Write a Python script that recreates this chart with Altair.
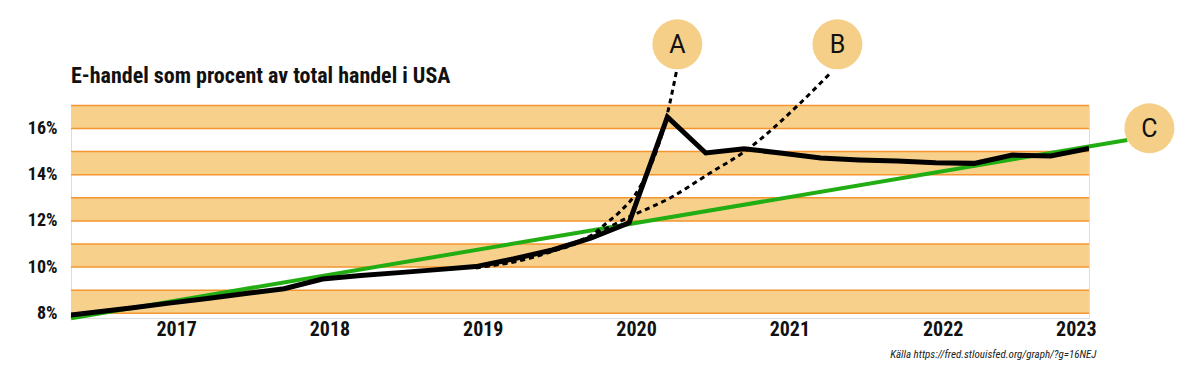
import altair as alt
import pandas as pd

title_text = "E-handel som procent av total handel i USA"
source_text = "Källa https://fred.stlouisfed.org/graph/?g=16NEJ"

# quarterly observations (decimal year) and e-commerce share (%)
quarters = [2016.25, 2016.5, 2016.75, 2017.0, 2017.25, 2017.5, 2017.75,
            2018.0, 2018.25, 2018.5, 2018.75, 2019.0, 2019.25, 2019.5,
            2019.75, 2020.0, 2020.25, 2020.5, 2020.75, 2021.0, 2021.25,
            2021.5, 2021.75, 2022.0, 2022.25, 2022.5, 2022.75, 2023.0]
share = [7.84, 8.03, 8.23, 8.44, 8.64, 8.86, 9.06,
         9.48, 9.64, 9.76, 9.89, 10.02, 10.36, 10.74,
         11.25, 11.92, 16.5, 14.94, 15.12, 14.93, 14.72,
         14.64, 14.59, 14.52, 14.49, 14.85, 14.81, 15.14]

# dashed scenario curves
a_x = [2019.0, 2019.25, 2019.5, 2019.75, 2019.855, 2019.941, 2020.072, 2020.248, 2020.311]
a_y = [10.0, 10.22, 10.68, 11.35, 11.92, 12.40, 13.48, 16.58, 18.53]
b_x = [2019.0, 2019.25, 2019.5, 2019.75, 2020.0, 2020.267, 2020.528, 2020.768, 2021.115, 2021.322]
b_y = [9.96, 10.26, 10.70, 11.35, 12.17, 12.99, 14.07, 15.07, 17.09, 18.46]

# green trend line
trend_x = [2016.36, 2023.25]
trend_y = [7.78, 15.50]

# shaded bands
band_low = [8, 10, 12, 14, 16]
band_high = [9, 11, 13, 15, 17]
band_edges = [8, 9, 10, 11, 12, 13, 14, 15, 16, 17]

# scenario markers
marker_labels = ["A", "B", "C"]
marker_x = [2020.315, 2021.359, 2023.394]
marker_y = [19.645, 19.645, 16.01]

year_ticks = [2017, 2018, 2019, 2020, 2021, 2022, 2023]
pct_ticks = [8, 10, 12, 14, 16]

x_domain = [2016.36, 2023.0]
y_domain = [7.8, 17.0]

COND = "Roboto Condensed, Liberation Sans Narrow, Arial Narrow, Roboto, sans-serif"
BAND_FILL = "#f7d18c"
BAND_LINE = "#f5952e"
CIRCLE_FILL = "#f5cf87"
GREEN = "#22ad12"

xs = alt.Scale(domain=x_domain, nice=False, zero=False)
ys = alt.Scale(domain=y_domain, nice=False, zero=False)

x_axis = alt.Axis(
    values=year_ticks, format="d", labelFont=COND, labelFontSize=20,
    labelFontWeight="bold", labelColor="#111111", labelPadding=2,
    labelOffset=7, labelFlush=True, domain=False, ticks=False, grid=False,
    title=source_text, titleX=1025, titleY=40, titleAlign="right",
    titleBaseline="alphabetic", titleFont=COND, titleFontSize=11,
    titleFontStyle="italic", titleFontWeight="normal", titleColor="#222222",
)
y_axis = alt.Axis(
    values=pct_ticks, labelExpr="datum.value + '%'", labelFont=COND,
    labelFontSize=18, labelFontWeight="bold", labelColor="#111111",
    labelPadding=14, labelBaseline="middle", domain=False, ticks=False,
    grid=False, title=None,
)


def X(field):
    return alt.X(field, scale=xs, axis=x_axis)


def Y(field):
    return alt.Y(field, scale=ys, axis=y_axis)


main_df = pd.DataFrame({"x": quarters, "y": share})
a_df = pd.DataFrame({"x": a_x, "y": a_y})
b_df = pd.DataFrame({"x": b_x, "y": b_y})
trend_df = pd.DataFrame({"x": trend_x, "y": trend_y})
band_df = pd.DataFrame({"lo": band_low, "hi": band_high})
edge_df = pd.DataFrame({"e": band_edges})
marker_df = pd.DataFrame({"label": marker_labels, "x": marker_x, "y": marker_y})
title_df = pd.DataFrame({"t": [title_text]})

bands = alt.Chart(band_df).mark_rect(color=BAND_FILL).encode(
    x=alt.value(0), x2=alt.value("width"),
    y=Y("lo:Q"), y2="hi:Q",
)

edges = alt.Chart(edge_df).mark_rule(color=BAND_LINE, strokeWidth=1.5).encode(
    y=Y("e:Q"),
)

trend = alt.Chart(trend_df).mark_line(color=GREEN, strokeWidth=4).encode(
    x=X("x:Q"), y=Y("y:Q"),
)

main = alt.Chart(main_df).mark_line(color="#000000", strokeWidth=5, clip=True,
                                    strokeJoin="miter").encode(
    x=X("x:Q"), y=Y("y:Q"),
)

dash_a = alt.Chart(a_df).mark_line(color="#000000", strokeWidth=3, strokeDash=[5, 4],
                                   interpolate="monotone").encode(
    x=X("x:Q"), y=Y("y:Q"),
)
dash_b = alt.Chart(b_df).mark_line(color="#000000", strokeWidth=3, strokeDash=[5, 4],
                                   interpolate="monotone").encode(
    x=X("x:Q"), y=Y("y:Q"),
)

circles = alt.Chart(marker_df).mark_circle(size=2500, color=CIRCLE_FILL, opacity=1).encode(
    x=X("x:Q"), y=Y("y:Q"),
)
letters = alt.Chart(marker_df).mark_text(font="Roboto", fontSize=25, color="#111111",
                                         align="center", baseline="middle", dy=1).encode(
    x=X("x:Q"), y=Y("y:Q"), text="label:N",
)

title = alt.Chart(title_df).mark_text(font=COND, fontSize=22, fontWeight="bold",
                                      color="#111111", align="left",
                                      baseline="alphabetic").encode(
    x=alt.value(0), y=alt.value(-22), text="t:N",
)

chart = alt.layer(bands, edges, trend, main, dash_a, dash_b, circles, letters, title).properties(
    width=1018,
    height=212.5,
    autosize=alt.AutoSizeParams(type="none"),
    padding={"left": 63, "top": 97.4, "right": 100, "bottom": 48},
).configure_view(stroke=None).configure(background="#ffffff")

chart.save("out.html", embed_options={"renderer": "svg", "actions": False})
